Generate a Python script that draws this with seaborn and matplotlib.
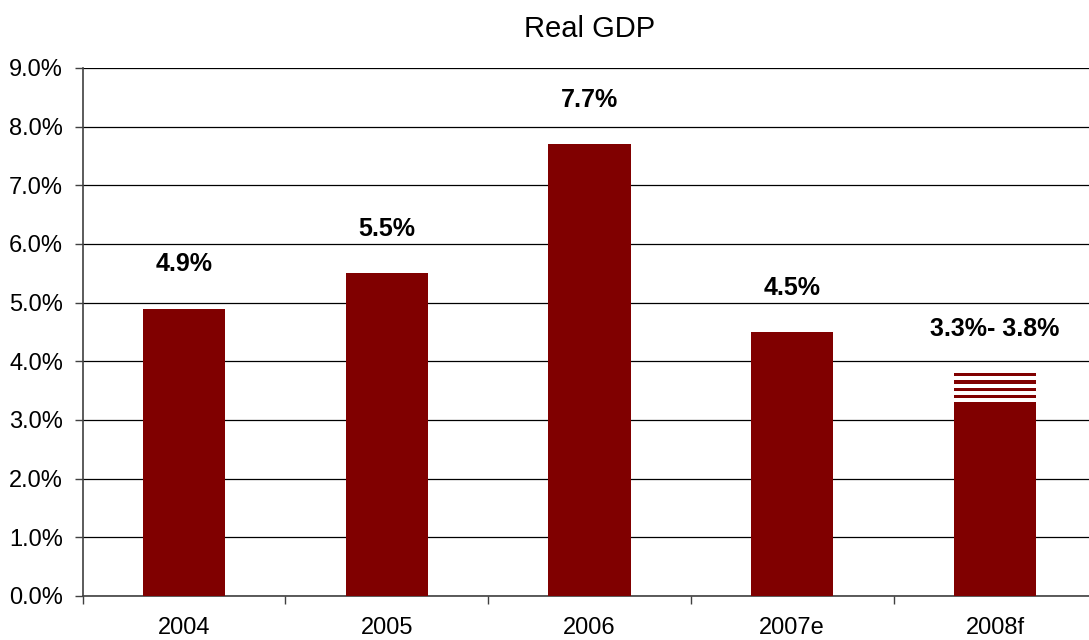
import numpy as np
import pandas as pd
import matplotlib
matplotlib.use("Agg")
import matplotlib.pyplot as plt
import seaborn as sns

# Real GDP growth by year (percent)
years = ["2004", "2005", "2006", "2007e", "2008f"]
growth_low = [4.9, 5.5, 7.7, 4.5, 3.3]
growth_high = [4.9, 5.5, 7.7, 4.5, 3.8]
value_labels = ["4.9%", "5.5%", "7.7%", "4.5%", "3.3%- 3.8%"]

BAR = "#800000"

sns.set_style("white")
plt.rcParams["font.family"] = ["Liberation Sans", "DejaVu Sans"]
plt.rcParams["text.color"] = "black"
plt.rcParams["xtick.color"] = "black"
plt.rcParams["ytick.color"] = "black"

df = pd.DataFrame({"year": years, "low": growth_low, "high": growth_high})

fig = plt.figure(figsize=(10.89, 6.40), dpi=100)
ax = fig.add_axes([0.0758, 0.06875, 0.931, 0.825])

width = 0.405
sns.barplot(data=df, x="year", y="low", color=BAR, saturation=1,
            width=width, ax=ax, zorder=3, linewidth=0)

# forecast range drawn as horizontal stripes between low and high
n_stripes = 4
for i, (lo, hi) in enumerate(zip(growth_low, growth_high)):
    if hi > lo:
        step = (hi - lo) / n_stripes
        thick = step * 0.45
        for k in range(n_stripes):
            top = hi - k * step
            ax.bar(i, thick, bottom=top - thick, width=width,
                   color=BAR, linewidth=0, zorder=3)

# value labels above bars
for i, (hi, lab) in enumerate(zip(growth_high, value_labels)):
    ax.annotate(lab, (i, hi), xytext=(0, 32), textcoords="offset points",
                ha="center", va="center", fontsize=18, fontweight="bold",
                color="black")

ax.set_ylim(0, 9)
ax.set_xlim(-0.5, 4.5)
ax.set_yticks(np.arange(0, 9.01, 1.0))
ax.set_yticklabels([f"{v:.1f}%" for v in np.arange(0, 9.01, 1.0)])
ax.yaxis.grid(True, color="black", linewidth=0.9, zorder=0)
ax.set_axisbelow(True)

ax.set_xticks(range(len(years)))
ax.set_xticklabels(years)
ax.set_xticks(np.arange(-0.5, 4.51, 1.0), minor=True)
ax.tick_params(axis="x", which="major", length=0, pad=15, labelsize=17)
ax.tick_params(axis="x", which="minor", length=6, width=1, color="#404040",
               direction="out", bottom=True)
ax.tick_params(axis="y", which="major", length=6, width=1, color="#404040",
               direction="out", pad=8, labelsize=17, left=True)

for s in ["top", "right"]:
    ax.spines[s].set_visible(False)
for s in ["left", "bottom"]:
    ax.spines[s].set_color("#404040")
    ax.spines[s].set_linewidth(1.2)

ax.set_xlabel("")
ax.set_ylabel("")
ax.set_title("Real GDP", fontsize=21, pad=22, color="black")

fig.savefig("out.png", dpi=100)
